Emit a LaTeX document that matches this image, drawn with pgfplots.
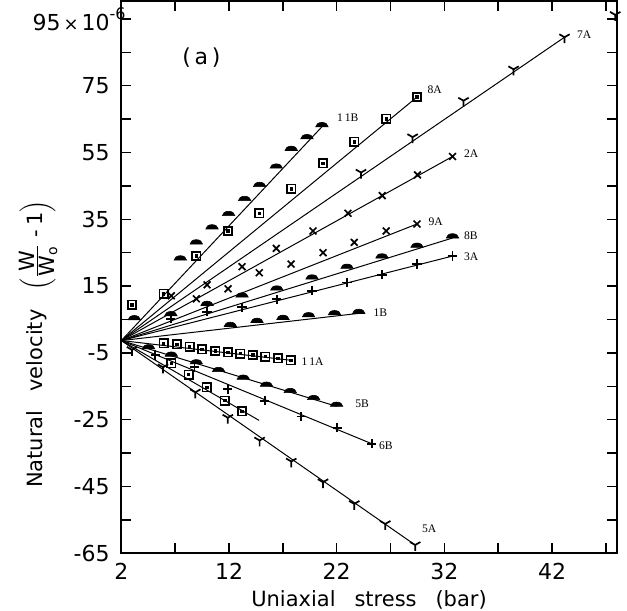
\documentclass[border=0pt]{standalone}
\usepackage{fontspec}
\setmainfont{DejaVu Sans}
\newfontfamily\seriflab{Liberation Serif}
\usepackage{pgfplots}
\usepackage{pgfplotstable}
\pgfplotsset{compat=1.18}

\pgfdeclareplotmark{dome}{%
  \pgfpathmoveto{\pgfqpoint{-\pgfplotmarksize}{0pt}}%
  \pgfpatharc{180}{0}{\pgfplotmarksize and 0.7\pgfplotmarksize}%
  \pgfpathclose\pgfusepathqfillstroke}

\pgfplotstableread{
x y
3.20 4.9
7.48 22.8
8.96 27.6
10.42 32.1
11.96 36.1
13.45 40.6
14.84 44.8
16.39 50.3
17.78 55.6
19.24 59.1
20.63 62.7
}\tabElevenB
\pgfplotstableread{
x y
2.99 9.4
5.93 12.7
8.96 24.0
11.91 31.5
14.81 36.8
17.78 44.1
20.73 51.8
23.63 58.2
26.60 65.1
29.46 71.6
}\tabEightA
\pgfplotstableread{
x y
24.26 49.0
29.05 59.6
33.78 70.5
38.43 79.9
43.16 89.5
47.87 96.2
}\tabSevenA
\pgfplotstableread{
x y
6.64 12.1
9.96 15.4
13.21 20.8
16.39 26.3
19.80 31.5
23.05 36.8
26.23 42.1
29.50 48.3
32.76 53.8
}\tabTwoA
\pgfplotstableread{
x y
8.96 11.2
11.91 14.2
14.81 19.0
17.76 21.6
20.73 25.0
23.63 28.1
26.60 31.5
29.46 33.6
}\tabNineA
\pgfplotstableread{
x y
6.60 6.1
9.96 9.2
13.21 11.7
16.44 13.8
19.71 17.1
22.96 20.3
26.21 23.4
29.46 26.6
32.76 29.4
}\tabEightB
\pgfplotstableread{
x y
6.60 5.2
9.96 7.3
13.21 8.7
16.44 11.1
19.71 13.6
22.96 16.1
26.21 18.4
29.46 21.6
32.76 24.0
}\tabThreeA
\pgfplotstableread{
x y
12.12 2.9
14.60 4.1
17.01 5.0
19.39 5.8
21.80 6.4
24.05 6.8
}\tabOneB
\pgfplotstableread{
x y
5.93 -2.1
7.17 -2.4
8.34 -3.1
9.49 -3.9
10.73 -4.4
11.91 -4.85
13.05 -5.2
14.21 -5.6
15.37 -6.1
16.55 -6.6
17.74 -7.2
}\tabElevenA
\pgfplotstableread{
x y
4.53 -3.8
6.64 -6.0
8.96 -8.3
11.03 -10.6
13.32 -12.9
15.48 -15.0
17.69 -16.9
19.86 -19.0
21.99 -21.0
}\tabFiveB
\pgfplotstableread{
x y
5.15 -5.6
8.78 -9.3
11.89 -15.8
15.32 -19.3
18.71 -24.0
22.05 -27.4
25.27 -32.2
}\tabSixB
\pgfplotstableread{
x y
6.62 -8.1
8.25 -11.5
9.94 -15.3
11.61 -19.3
13.21 -22.5
}\tabSqTwo
\pgfplotstableread{
x y
2.99 -4.1
5.87 -9.3
8.87 -16.8
11.89 -24.4
14.84 -31.2
17.78 -37.5
20.73 -43.7
23.63 -50.2
26.51 -56.2
29.29 -62.5
}\tabFiveA

\begin{document}
\fontsize{11}{13}\selectfont
\begin{tikzpicture}
\begin{axis}[name=ax, scale only axis, width=247.7pt, height=276pt,
  xmin=2, xmax=48, ymin=-65, ymax=100.2,
  xtick={2,12,22,32,42}, minor xtick={7,17,27,37,47},
  xticklabels={2,12,22,32,42},
  ytick={-65,-45,-25,-5,15,35,55,75,95}, minor ytick={-55,-35,-15,5,25,45,65,85},
  yticklabels={-65,-45,-25,-5,15,35,55,75,{95{\fontsize{9}{9}\selectfont\,×\,}10\rlap{\raisebox{0.9ex}{\fontsize{8}{8}\selectfont -6}}}},
  tick align=inside, major tick length=5pt, minor tick length=5pt,
  every tick/.style={black, line width=0.7pt},
  axis line style={line width=1pt},
  tick label style={font=\fontsize{11}{13}\selectfont},
  yticklabel style={xshift=-2pt},
  xticklabel style={yshift=-1pt},
  xlabel={Uniaxial\hspace{0.9em}stress\hspace{0.9em}(bar)},
  xlabel style={font=\fontsize{10.5}{12}\selectfont, yshift=2pt},
  every axis plot/.append style={black},
]
% fitted lines
\addplot[no marks, line width=0.5pt] coordinates {(2,-1.3) (20.63,62.7)};
\addplot[no marks, line width=0.5pt] coordinates {(2,-1.3) (29.46,71.6)};
\addplot[no marks, line width=0.5pt] coordinates {(2,-1.3) (43.16,89.5)};
\addplot[no marks, line width=0.5pt] coordinates {(2,-1.3) (32.76,53.8)};
\addplot[no marks, line width=0.5pt] coordinates {(2,-1.3) (29.46,33.6)};
\addplot[no marks, line width=0.5pt] coordinates {(2,-1.3) (32.76,29.4)};
\addplot[no marks, line width=0.5pt] coordinates {(2,-1.3) (32.76,24.0)};
\addplot[no marks, line width=0.5pt] coordinates {(2,-1.3) (24.5,7.0)};
\addplot[no marks, line width=0.5pt] coordinates {(2,-1.3) (17.74,-7.2)};
\addplot[no marks, line width=0.5pt] coordinates {(2,-1.3) (22.0,-21.0)};
\addplot[no marks, line width=0.5pt] coordinates {(2,-1.3) (25.27,-32.2)};
\addplot[no marks, line width=0.5pt] coordinates {(2,-1.3) (14.79,-25.2)};
\addplot[no marks, line width=0.5pt] coordinates {(2,-1.3) (29.29,-62.5)};
% markers
\addplot[only marks, mark=dome, mark size=3.1pt, mark options={fill=black, line width=0.3pt}] table {\tabElevenB};
\addplot[only marks, mark=dome, mark size=3.1pt, mark options={fill=black, line width=0.3pt}] table {\tabEightB};
\addplot[only marks, mark=dome, mark size=3.1pt, mark options={fill=black, line width=0.3pt}] table {\tabOneB};
\addplot[only marks, mark=dome, mark size=3.1pt, mark options={fill=black, line width=0.3pt}] table {\tabFiveB};
\addplot[only marks, mark=square, mark size=2.1pt, mark options={line width=0.8pt, fill=white}] table {\tabEightA};
\addplot[only marks, mark=square, mark size=2.1pt, mark options={line width=0.8pt, fill=white}] table {\tabElevenA};
\addplot[only marks, mark=square, mark size=2.1pt, mark options={line width=0.8pt, fill=white}] table {\tabSqTwo};
\addplot[only marks, mark=square*, mark size=0.6pt] table {\tabEightA};
\addplot[only marks, mark=square*, mark size=0.6pt] table {\tabElevenA};
\addplot[only marks, mark=square*, mark size=0.6pt] table {\tabSqTwo};
\addplot[only marks, mark=x, mark size=2.4pt, mark options={line width=0.85pt}] table {\tabTwoA};
\addplot[only marks, mark=x, mark size=2.4pt, mark options={line width=0.85pt}] table {\tabNineA};
\addplot[only marks, mark=+, mark size=2.3pt, mark options={line width=0.85pt}] table {\tabThreeA};
\addplot[only marks, mark=+, mark size=2.3pt, mark options={line width=0.85pt}] table {\tabSixB};
\addplot[only marks, mark=Mercedes star flipped, mark size=3pt, mark options={line width=0.85pt}] table {\tabSevenA};
\addplot[only marks, mark=Mercedes star flipped, mark size=3pt, mark options={line width=0.85pt}] table {\tabFiveA};
% series labels
\begin{scope}[every node/.style={font=\seriflab\fontsize{5.8}{6}\selectfont, anchor=west, inner sep=0pt}]
\node at (axis cs:22.0,65.3) {1\,1B};
\node at (axis cs:30.4,73.7) {8A};
\node at (axis cs:44.3,90.2) {7A};
\node at (axis cs:33.8,54.6) {2A};
\node at (axis cs:30.5,34.3) {9A};
\node at (axis cs:33.8,30.1) {8B};
\node at (axis cs:33.8,23.8) {3A};
\node at (axis cs:25.4,6.9) {1B};
\node at (axis cs:18.7,-7.6) {1\,1A};
\node at (axis cs:23.7,-20.1) {5B};
\node at (axis cs:25.9,-32.8) {6B};
\node at (axis cs:29.9,-57.5) {5A};
\end{scope}
\node[font=\fontsize{11}{13}\selectfont] at (axis cs:9.43,83.3) {(\,a\,)};
\end{axis}
\path (ax.south west) ++(-39.2pt,104.7pt) node[rotate=90, anchor=base, inner sep=0pt, font=\fontsize{10.5}{12}\selectfont]
  {Natural\hspace{0.9em}velocity\hspace{0.9em}$\left(\frac{\mbox{W}}{\mbox{W}_{\mbox{\fontsize{7}{7}\selectfont o}}}\mbox{\hspace{0.3em}-\hspace{0.2em}1}\right)$};
\pgfresetboundingbox
\path ([xshift=-60.7pt, yshift=-28.8pt]ax.south west) rectangle ([xshift=5.2pt, yshift=0.75pt]ax.north east);
\end{tikzpicture}
\end{document}
